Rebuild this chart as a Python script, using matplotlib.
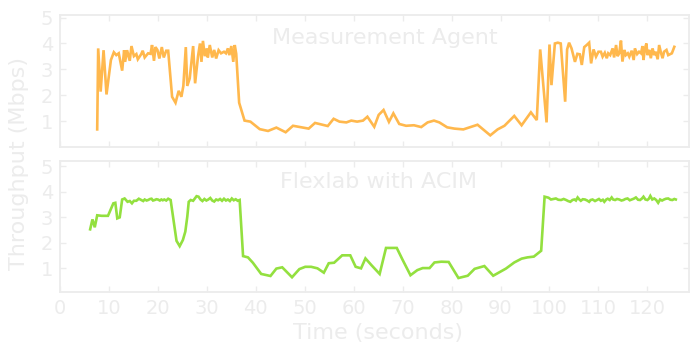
import numpy as np
import matplotlib
matplotlib.use("Agg")
import matplotlib.pyplot as plt

# ---- Measurement Agent throughput (Mbps) ----
agent_t_start = [7.6, 7.8, 8.3, 8.9, 9.5, 10.4, 11.0, 11.5, 12.0, 12.7, 13.1, 13.3, 13.7,
                 14.25, 14.6, 15.1, 15.6, 15.9, 16.6, 16.9, 17.3, 18.0, 18.5, 18.8, 19.2,
                 19.5, 19.9, 20.3, 20.8, 21.2, 21.7, 22.1]
agent_v_start = [0.68, 3.81, 2.14, 3.74, 2.03, 3.36, 3.66, 3.55, 3.62, 2.95, 3.74, 3.29, 3.74,
                 3.33, 3.90, 3.51, 3.59, 3.39, 3.59, 3.72, 3.46, 3.62, 3.60, 3.94, 3.33,
                 3.86, 3.75, 3.42, 3.86, 3.46, 3.72, 3.72]

agent_t_dip = [22.9, 23.6, 24.25, 24.8, 25.2, 25.7, 26.0, 26.5, 27.2, 27.6, 28.2, 28.6, 28.9,
               29.2, 29.6, 30.0, 30.2, 30.6, 31.1, 31.5, 31.9, 32.4, 32.9, 33.5, 33.9, 34.3,
               34.6, 35.0, 35.4, 35.7, 36.0]
agent_v_dip = [1.94, 1.71, 2.17, 1.94, 2.36, 3.86, 2.36, 2.65, 3.90, 2.46, 3.51, 4.00, 3.29,
               4.10, 3.51, 3.81, 3.46, 3.94, 3.46, 3.75, 3.42, 3.74, 3.62, 3.68, 3.62, 3.81,
               3.55, 3.90, 3.29, 3.94, 3.60]

agent_t_low = [36.6, 37.7, 38.9, 40.8, 42.5, 44.2, 46.1, 47.6, 50.8, 52.1, 54.7, 55.9, 57.1,
               58.5, 59.5, 60.7, 61.9, 62.8, 64.2, 65.1, 66.1, 67.2, 68.1, 69.3, 70.7, 72.3,
               73.8, 75.1, 76.4, 77.5, 79.1, 80.6, 82.4, 84.0, 85.3, 87.9, 89.4, 90.8, 92.8,
               94.3, 96.2, 97.4]
agent_v_low = [1.71, 1.02, 0.98, 0.69, 0.62, 0.75, 0.57, 0.82, 0.71, 0.93, 0.81, 1.09, 0.98,
               0.95, 1.02, 0.98, 1.02, 1.17, 0.78, 1.24, 1.43, 0.97, 1.30, 0.89, 0.82, 0.84,
               0.77, 0.95, 1.02, 0.95, 0.76, 0.71, 0.68, 0.78, 0.86, 0.45, 0.68, 0.82, 1.20,
               0.84, 1.34, 1.04]

agent_t_end = [98.1, 99.4, 100.0, 100.4, 101.1, 101.7, 102.3, 103.2, 103.6, 104.0, 104.5,
               105.2, 105.7, 106.2, 106.6, 107.1, 107.6, 108.1, 108.5, 109.0, 109.5, 110.0,
               110.5, 110.85, 111.3, 111.7, 112.0, 112.4, 112.9, 113.2, 113.6, 113.9, 114.25,
               114.6, 114.9, 115.3, 115.6, 116.0, 116.3, 116.8, 117.2, 117.45, 117.9, 118.3,
               118.7, 119.0, 119.2, 119.5, 119.8, 120.0, 120.4, 120.7, 121.05, 121.4, 121.7,
               122.1, 122.4, 122.8, 123.1, 123.4, 123.9, 124.25, 124.7, 125.0, 125.5]
agent_v_end = [3.77, 0.95, 3.96, 2.39, 4.00, 4.03, 4.00, 1.75, 3.77, 4.03, 3.81,
               3.29, 3.60, 3.58, 3.17, 3.86, 3.94, 4.03, 3.23, 3.77, 3.49, 3.68,
               3.68, 3.49, 3.64, 3.43, 3.62, 3.55, 3.81, 3.46, 3.94, 3.51, 3.62,
               4.11, 3.30, 3.75, 3.55, 3.62, 3.49, 3.72, 3.36, 3.81, 3.59, 3.68,
               3.62, 3.90, 3.36, 3.81, 4.00, 3.55, 3.75, 3.43, 3.81, 3.55, 3.68,
               3.39, 3.94, 3.62, 3.43, 3.68, 3.75, 3.55, 3.59, 3.62, 3.87]

# ---- Flexlab with ACIM throughput (Mbps) ----
acim_t_start = [6.16, 6.63, 7.1, 7.6, 8.5, 9.8, 10.9, 11.3, 11.7, 12.2, 12.7, 13.2, 13.8,
                14.25, 14.7, 15.1, 15.6, 16.1, 16.6, 17.0, 17.3, 17.7, 18.0, 18.4, 18.7,
                19.0, 19.35, 19.7, 20.0, 20.4, 20.7, 21.0, 21.3, 21.7, 22.1, 22.6]
acim_v_start = [2.53, 2.92, 2.61, 3.08, 3.06, 3.06, 3.55, 3.57, 2.96, 3.00, 3.70, 3.74, 3.61,
                3.64, 3.55, 3.65, 3.65, 3.73, 3.68, 3.64, 3.70, 3.66, 3.68, 3.72, 3.73,
                3.66, 3.68, 3.71, 3.70, 3.66, 3.70, 3.67, 3.70, 3.66, 3.73, 3.68]

acim_t_dip = [23.4, 23.8, 24.45, 25.1, 25.6, 26.0, 26.3, 26.7, 27.2, 27.9, 28.3, 28.7, 29.1,
              29.5, 29.9, 30.3, 30.7, 31.1, 31.5, 31.9, 32.3, 32.7, 33.1, 33.5, 33.9, 34.3,
              34.7, 35.1, 35.5, 35.9, 36.3, 36.7]
acim_v_dip = [2.63, 2.08, 1.87, 2.11, 2.44, 3.02, 3.61, 3.68, 3.65, 3.83, 3.81, 3.70, 3.64,
              3.72, 3.66, 3.70, 3.76, 3.66, 3.62, 3.70, 3.67, 3.72, 3.65, 3.73, 3.66, 3.70,
              3.64, 3.74, 3.67, 3.71, 3.65, 3.68]

acim_t_low = [37.4, 38.4, 39.4, 41.1, 43.0, 44.2, 45.4, 47.4, 48.9, 50.1, 51.3, 52.6, 53.9,
              54.9, 56.0, 57.65, 59.3, 60.4, 61.5, 62.4, 63.6, 65.3, 66.6, 68.8, 70.0, 71.6,
              73.0, 74.1, 75.5, 76.5, 77.9, 79.4, 81.4, 83.3, 84.7, 86.7, 88.5, 91.1, 92.8,
              94.3, 95.5, 96.8, 98.3]
acim_v_low = [1.48, 1.43, 1.22, 0.78, 0.70, 0.99, 1.04, 0.65, 0.97, 1.06, 1.06, 1.00, 0.83,
              1.20, 1.22, 1.51, 1.51, 1.06, 1.00, 1.39, 1.13, 0.78, 1.80, 1.80, 1.33, 0.73,
              0.93, 1.01, 1.01, 1.23, 1.26, 1.25, 0.62, 0.71, 0.98, 1.09, 0.71, 0.99, 1.23,
              1.38, 1.43, 1.46, 1.69]

acim_t_end = [99.0, 99.8, 100.3, 100.8, 101.3, 101.8, 102.35, 102.9, 103.4, 103.8, 104.25,
              104.7, 105.07, 105.4, 105.75, 106.1, 106.4, 106.8, 107.25, 107.7, 108.1, 108.4,
              108.8, 109.3, 109.7, 110.1, 110.5, 110.9, 111.2, 111.6, 111.9, 112.3, 112.7,
              113.0, 113.4, 113.8, 114.25, 114.7, 115.1, 115.5, 115.95, 116.4, 116.8, 117.2,
              117.65, 118.1, 118.5, 118.9, 119.2, 119.6, 120.0, 120.3, 120.6, 121.0, 121.4,
              121.8, 122.2, 122.6, 123.0, 123.4, 123.8, 124.25, 124.7, 125.1, 125.5, 125.8]
acim_v_end = [3.81, 3.77, 3.70, 3.72, 3.74, 3.69, 3.68, 3.72, 3.68, 3.64, 3.61,
              3.68, 3.70, 3.66, 3.78, 3.70, 3.65, 3.71, 3.70, 3.66, 3.61, 3.68,
              3.70, 3.64, 3.68, 3.72, 3.65, 3.69, 3.61, 3.70, 3.73, 3.68, 3.78,
              3.70, 3.68, 3.72, 3.70, 3.66, 3.68, 3.72, 3.74, 3.67, 3.70, 3.73,
              3.78, 3.69, 3.68, 3.74, 3.81, 3.70, 3.68, 3.73, 3.84, 3.70, 3.74,
              3.68, 3.57, 3.70, 3.66, 3.70, 3.73, 3.74, 3.69, 3.68, 3.72, 3.70]

agent_t = np.concatenate([agent_t_start, agent_t_dip, agent_t_low, agent_t_end])
agent_v = np.concatenate([agent_v_start, agent_v_dip, agent_v_low, agent_v_end])
acim_t = np.concatenate([acim_t_start, acim_t_dip, acim_t_low, acim_t_end])
acim_v = np.concatenate([acim_v_start, acim_v_dip, acim_v_low, acim_v_end])

x_ticks = list(range(0, 130, 10))
y_ticks = [1, 2, 3, 4, 5]

FAINT = "#ececec"
ORANGE = "#ffb84d"
GREEN = "#93e03f"

plt.rcParams["font.family"] = "DejaVu Sans"

fig = plt.figure(figsize=(6.91, 3.43), dpi=100)
fig.patch.set_facecolor("white")

W, H = 691.0, 343.0
ax_top = fig.add_axes([60 / W, 1 - 147 / H, 629 / W, 132 / H])
ax_bot = fig.add_axes([60 / W, 1 - 292.3 / H, 629 / W, 131.3 / H])

panels = [
    (ax_top, agent_t, agent_v, ORANGE, "Measurement Agent", (0.0, 5.1), 0.517, 0.780),
    (ax_bot, acim_t, acim_v, GREEN, "Flexlab with ACIM", (0.06, 5.21), 0.507, 0.792),
]

for ax, t, v, color, title, ylim, tx, ty in panels:
    ax.plot(t, v, color=color, lw=1.9, solid_joinstyle="miter")
    ax.set_xlim(0, 128.5)
    ax.set_ylim(*ylim)
    ax.set_xticks(x_ticks)
    ax.set_yticks(y_ticks)
    for s in ax.spines.values():
        s.set_color(FAINT)
        s.set_linewidth(1.3)
    ax.tick_params(direction="in", length=4, width=1.0, color=FAINT,
                   labelcolor=FAINT, labelsize=14, top=True, right=True, pad=5)
    ax.text(tx, ty, title, transform=ax.transAxes, ha="center", va="baseline",
            fontsize=16, color=FAINT)

ax_top.tick_params(labelbottom=False)

fig.text(19 / W, 1 - 163 / H, "Throughput (Mbps)", rotation=90, ha="center",
         va="center", fontsize=16, color=FAINT)
fig.text(378 / W, 1 - 339 / H, "Time (seconds)", ha="center", va="baseline",
         fontsize=16, color=FAINT)

fig.savefig("out.png", dpi=100, facecolor="white")
